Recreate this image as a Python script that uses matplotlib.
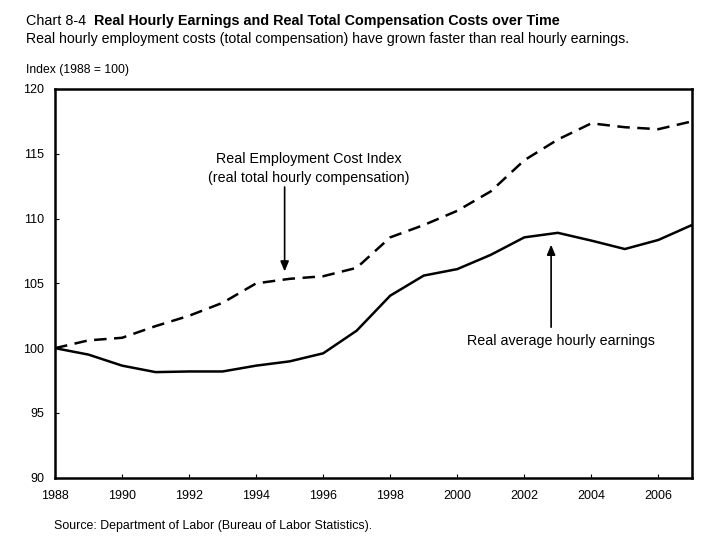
import matplotlib
matplotlib.use("Agg")
import matplotlib.pyplot as plt
from matplotlib import font_manager

years = list(range(1988, 2008))
eci = [100.0, 100.6, 100.8, 101.7, 102.5, 103.5, 105.0, 105.35, 105.55, 106.2,
       108.55, 109.5, 110.6, 112.1, 114.5, 116.1, 117.35, 117.05, 116.9, 117.5]
ahe = [100.0, 99.5, 98.65, 98.15, 98.2, 98.2, 98.65, 98.98, 99.6, 101.35,
       104.05, 105.6, 106.1, 107.2, 108.55, 108.9, 108.3, 107.65, 108.35, 109.5]
xticks = list(range(1988, 2007, 2))
yticks = [90, 95, 100, 105, 110, 115, 120]

names = {f.name for f in font_manager.fontManager.ttflist}
narrow = "Liberation Sans Narrow" if "Liberation Sans Narrow" in names else "Liberation Sans"
plt.rcParams['font.family'] = ['Liberation Sans', 'DejaVu Sans']

fig = plt.figure(figsize=(7.01, 5.42), dpi=100)
ax = fig.add_axes([0.0785, 0.1186, 0.9085, 0.7172])

ax.plot(years, eci, color='black', lw=1.8, ls=(0, (5, 3)))
ax.plot(years, ahe, color='black', lw=1.8)

ax.set_xlim(1988, 2007)
ax.set_ylim(90, 120)
ax.set_xticks(xticks)
ax.set_yticks(yticks)
ax.tick_params(direction='in', length=3, width=0.8, labelsize=9)
ax.tick_params(axis='x', pad=9)
ax.tick_params(axis='y', pad=8)
for lab in ax.get_xticklabels() + ax.get_yticklabels():
    lab.set_family([narrow, 'DejaVu Sans'])
for s in ax.spines.values():
    s.set_linewidth(1.8)

ax.annotate("", xy=(1994.85, 105.7), xytext=(1994.85, 112.65),
            arrowprops=dict(arrowstyle='-|>,head_length=0.6,head_width=0.25', color='black', lw=1.2))
ax.text(1995.57, 114.62, "Real Employment Cost Index", ha='center', va='center', fontsize=10.3)
ax.text(1995.57, 113.15, "(real total hourly compensation)", ha='center', va='center', fontsize=10.3)
ax.annotate("", xy=(2002.8, 108.2), xytext=(2002.8, 101.4),
            arrowprops=dict(arrowstyle='-|>,head_length=0.6,head_width=0.25', color='black', lw=1.2))
ax.text(2003.1, 100.55, "Real average hourly earnings", ha='center', va='center', fontsize=10.3)

ty = 1 - 20.7 / 542
t = fig.text(26 / 701, ty, "Chart 8-4  ", fontsize=10.4, va='center', ha='left')
fig.canvas.draw()
bb = t.get_window_extent()
fig.text(bb.x1 / fig.bbox.width, ty, "Real Hourly Earnings and Real Total Compensation Costs over Time",
         fontsize=10.4, fontweight='bold', va='center', ha='left')
fig.text(26 / 701, 1 - 39.5 / 542,
         "Real hourly employment costs (total compensation) have grown faster than real hourly earnings.",
         fontsize=10.2, va='center', ha='left')
fig.text(26 / 701, 1 - 70 / 542, "Index (1988 = 100)", fontsize=8.7, va='center', ha='left')
fig.text(54 / 701, 1 - 526.5 / 542, "Source: Department of Labor (Bureau of Labor Statistics).",
         fontsize=8.9, va='center', ha='left')

fig.savefig("out.png", dpi=100)
